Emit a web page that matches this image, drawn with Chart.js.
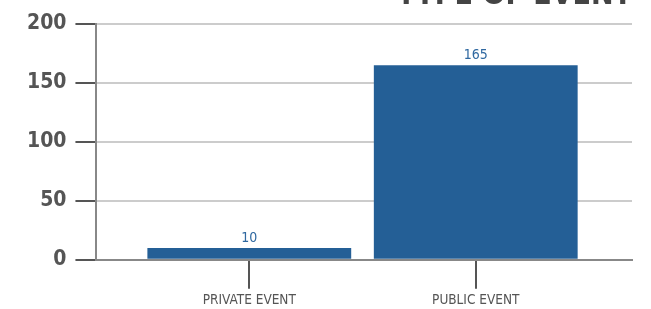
<!DOCTYPE html>
<html>
<head>
<meta charset="utf-8">
<script src="https://cdn.jsdelivr.net/npm/chart.js@4"></script>
<style>
  html, body { margin: 0; padding: 0; background: #fff; overflow: hidden; }
  #wrap { position: absolute; left: 0; top: -40px; width: 651px; height: 353px; }
</style>
</head>
<body>
<div id="wrap"><canvas id="grafico"></canvas></div>
<script>
// dados
const categorias = ["PRIVATE EVENT", "PUBLIC EVENT"];
const valores = [10, 165];
const ticksY = [0, 50, 100, 150, 200];
const titulo = "TYPE OF EVENT";

const fonteNarrow = "'DejaVu Sans Condensed', 'Liberation Sans', sans-serif";

// rótulos acima das barras
const rotulosBarras = {
  id: "rotulosBarras",
  afterDatasetsDraw(chart) {
    const ctx = chart.ctx;
    const meta = chart.getDatasetMeta(0);
    ctx.save();
    ctx.fillStyle = "#2f68a0";
    ctx.font = "14px " + fonteNarrow;
    ctx.textAlign = "center";
    ctx.textBaseline = "bottom";
    meta.data.forEach((barra, i) => {
      ctx.fillText(String(valores[i]), barra.x, barra.y - 3);
    });
    ctx.restore();
  }
};

const ctx = document.getElementById("grafico");
new Chart(ctx, {
  type: "bar",
  data: {
    datasets: [{
      data: valores.map((v, i) => ({ x: i, y: v })),
      backgroundColor: "#245f96",
      borderWidth: 0,
      barPercentage: 0.9,
      categoryPercentage: 1.0
    }]
  },
  options: {
    responsive: true,
    maintainAspectRatio: false,
    animation: false,
    layout: { padding: { left: 18, right: 19, top: 0, bottom: 0 } },
    plugins: {
      legend: { display: false },
      tooltip: { enabled: false },
      title: {
        display: true,
        text: titulo,
        align: "end",
        color: "#444",
        font: { family: fonteNarrow, size: 30, weight: "bold" },
        padding: { top: 18, bottom: 10 }
      }
    },
    scales: {
      x: {
        type: "linear",
        offset: false,
        min: -0.675,
        max: 1.69,
        afterBuildTicks: (axis) => {
          axis.ticks = categorias.map((c, i) => ({ value: i }));
        },
        ticks: {
          callback: (v) => categorias[v],
          color: "#555",
          font: { family: fonteNarrow, size: 13.5 },
          padding: 4,
          maxRotation: 0
        },
        grid: {
          offset: false,
          drawOnChartArea: false,
          tickLength: 29,
          tickColor: "#555",
          lineWidth: 2
        },
        border: { color: "#888", width: 2 }
      },
      y: {
        min: 0,
        max: 200,
        afterBuildTicks: (axis) => {
          axis.ticks = ticksY.map((v) => ({ value: v }));
        },
        ticks: {
          color: "#555",
          font: { family: fonteNarrow, size: 21, weight: "bold" },
          padding: 9
        },
        grid: {
          color: "#cccccc",
          lineWidth: 2,
          tickLength: 21,
          tickColor: "#555"
        },
        border: { color: "#888", width: 2 }
      }
    }
  },
  plugins: [rotulosBarras]
});
</script>
</body>
</html>
